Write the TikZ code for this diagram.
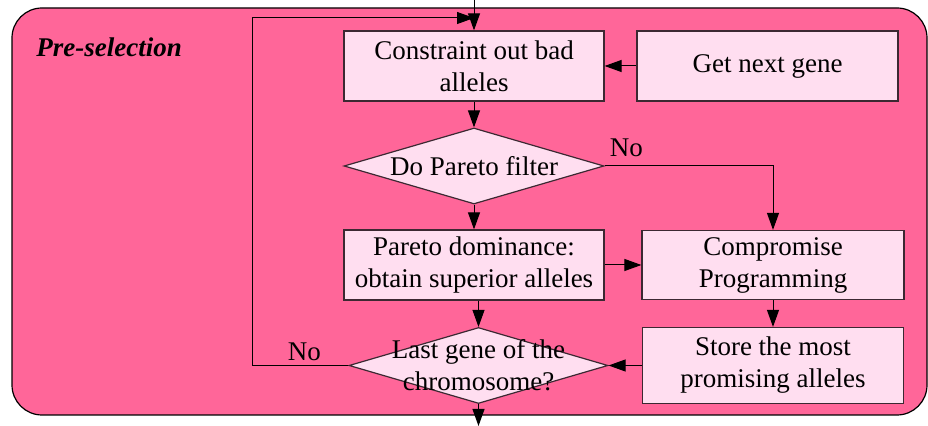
\documentclass[tikz,border=0pt]{standalone}
\usepackage{fontspec}
\setmainfont{Liberation Serif}
\usetikzlibrary{positioning,arrows.meta,shapes.geometric}
\definecolor{panelpink}{RGB}{255,102,153}
\definecolor{boxpink}{RGB}{255,222,240}
\definecolor{boxline}{RGB}{60,40,50}
\tikzset{
  panel/.style={draw=black,fill=panelpink,rounded corners=15pt,line width=0.6pt},
  procbox/.style={draw=boxline,fill=boxpink,line width=0.6pt,minimum width=130pt,minimum height=35pt,inner sep=0pt,align=center,font=\fontsize{13.5}{16}\selectfont},
  decbox/.style={diamond,draw=boxline,fill=boxpink,line width=0.6pt,minimum width=130pt,minimum height=38pt,inner sep=0pt},
  dectext/.style={align=center,inner sep=0pt,font=\fontsize{13.5}{16}\selectfont},
  tag/.style={inner sep=1pt,font=\fontsize{13.5}{16}\selectfont},
  flow/.style={-{Triangle[length=8.5pt,width=6pt]},line width=0.5pt,draw=black},
}
\begin{document}
\begin{tikzpicture}[x=0.5pt,y=-0.5pt]
  \useasboundingbox (0,0) rectangle (928,426);
  % pre-selection panel
  \draw[panel] (12,8) rectangle (927,415);
  \node[tag,anchor=west,font=\fontsize{13.5}{16}\selectfont\bfseries\itshape] (title) at (34,47) {Pre-selection};
  % top row
  \node[procbox] (cons) at (474,66)    {Constraint out bad\\alleles};
  \node[procbox,minimum width=130.5pt] (next) at (767.5,66) {Get next gene};
  % decisions and processing
  \node[decbox] (filter) at (474,166) [label={[dectext]center:Do Pareto filter}] {};
  \node[procbox] (dom)  at (474,265) {Pareto dominance:\\obtain superior alleles};
  \node[procbox,minimum width=131pt,minimum height=34.5pt] (comp) at (773,265) {Compromise\\Programming};
  \node[procbox,minimum width=130.5pt,minimum height=38pt] (store) at (773,365.5) {Store the most\\promising alleles};
  \node[decbox,minimum width=129.5pt] (last) at (478.5,365.5)
    [label={[dectext]center:{Last gene of the\\chromosome?}}] {};
  % entry, exit and loop points
  \coordinate (entry) at (474,0);
  \coordinate (join)  at (474,18);
  \coordinate (exit)  at (478.5,426);
  % connectors
  \draw[flow] (entry) -- (cons.north);
  \draw[flow] (next) -- (cons);
  \draw[flow] (cons) -- (filter);
  \draw[flow] (filter) -- (dom);
  \draw[flow] (filter.east) -| (comp.north)
    node[tag,pos=0.065,above,yshift=3.5pt,name=nofilter] {No};
  \draw[flow] (dom) -- (comp);
  \draw[flow] (comp) -- (store);
  \draw[flow] (store) -- (last.east);
  \draw[flow] (last.north |- dom.south) -- (last.north);
  \draw[flow] (last.south) -- (exit);
  \draw[flow] (last.west) -- ++(-96,0) node[tag,midway,above,inner sep=2pt,xshift=2pt,name=nolast] {No} |- (join);
\end{tikzpicture}
\end{document}
